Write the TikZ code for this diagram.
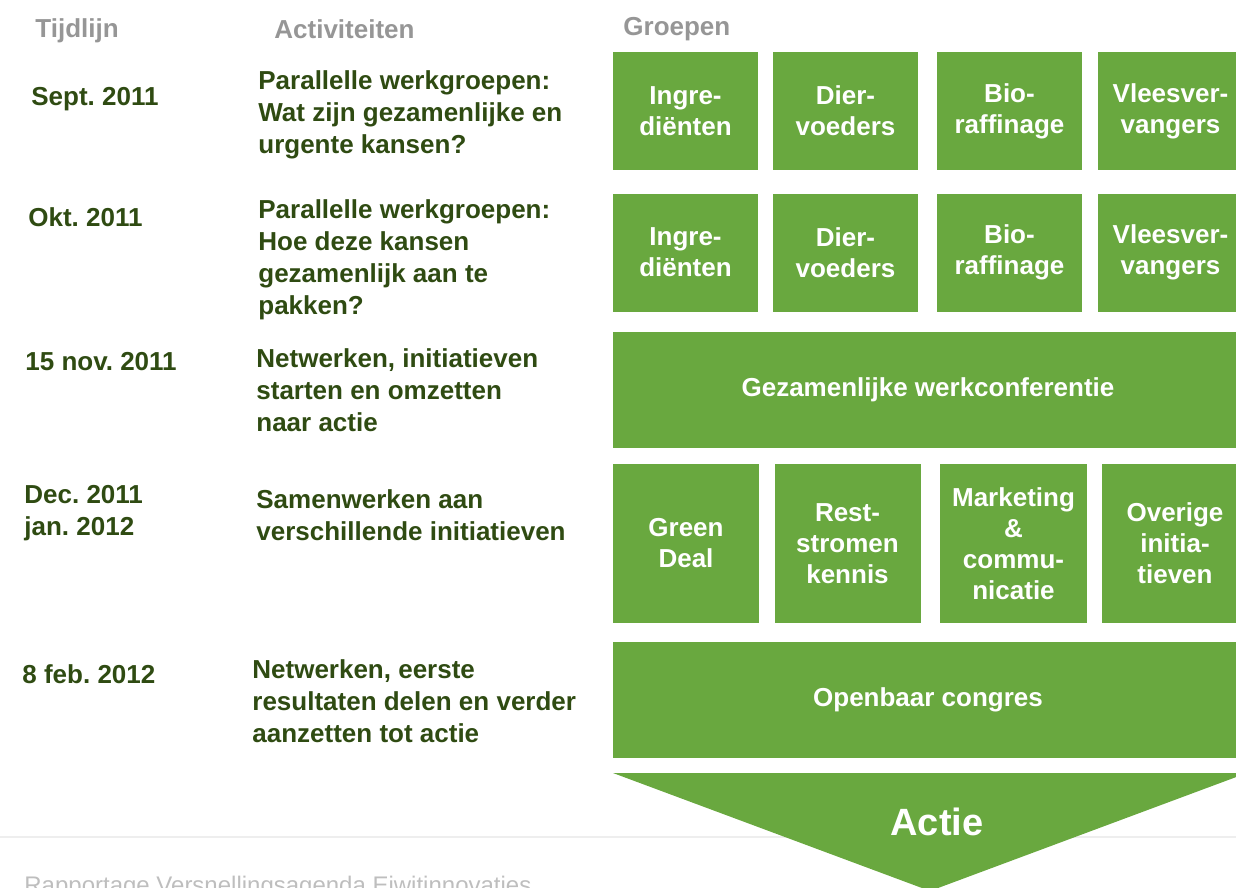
\documentclass[tikz,border=0pt]{standalone}
\usepackage{fontspec}
\setmainfont{Liberation Sans}
\frenchspacing
\definecolor{groen}{HTML}{69A83F}
\definecolor{donkergroen}{HTML}{2F4B12}
\definecolor{kopgrijs}{HTML}{969696}
\definecolor{voetgrijs}{HTML}{BEBEBE}
\definecolor{lijngrijs}{HTML}{EEEEEE}
\begin{document}
\begin{tikzpicture}[x=0.5pt,y=-0.5pt,
    kop/.style={anchor=west,inner sep=0,text=kopgrijs,font=\fontsize{13}{16}\selectfont\bfseries},
    tekst/.style={anchor=west,inner sep=0,align=left,text=donkergroen,font=\fontsize{13}{16}\selectfont\bfseries},
    groep/.style={fill=groen,text=white,align=center,inner sep=0,minimum width=72.5pt,minimum height=59pt,font=\fontsize{13}{15.5}\selectfont\bfseries},
    balk/.style={groep,minimum width=315pt,minimum height=58pt}]
    \clip (0,0) rectangle (1236,888);
    % koppen
    \node[kop] (tijdlijn) at (35,31) {Tijdlijn};
    \node[kop] (activiteiten) at (274,29) {Activiteiten};
    \node[kop] (groepen) at (623,29) {Groepen};
    % tijdlijn
    \node[tekst] (sept) at (31,99) {Sept. 2011};
    \node[tekst] (okt) at (28,217) {Okt. 2011};
    \node[tekst] (nov) at (25,362) {15 nov. 2011};
    \node[tekst] (dec) at (24,513) {Dec. 2011\\jan. 2012};
    \node[tekst] (feb) at (22,674) {8 feb. 2012};
    % activiteiten
    \node[tekst] (actsept) at (258,115) {Parallelle werkgroepen:\\Wat zijn gezamenlijke en\\urgente kansen?};
    \node[tekst] (actokt) at (258,260) {Parallelle werkgroepen:\\Hoe deze kansen\\gezamenlijk aan te\\pakken?};
    \node[tekst] (actnov) at (256,390) {Netwerken, initiatieven\\starten en omzetten\\naar actie};
    \node[tekst] (actdec) at (256,515) {Samenwerken aan\\verschillende initiatieven};
    \node[tekst] (actfeb) at (252,701) {Netwerken, eerste\\resultaten delen en verder\\aanzetten tot actie};
    % groepen
    \node[groep] (ingA) at (685.5,111) {Ingre-\\diënten};
    \node[groep] (dierA) at (845.5,111) {Dier-\\voeders};
    \node[groep] (bioA) at (1009.5,111) {Bio-\\raffinage};
    \node[groep] (vleesA) at (1170.5,111) {Vleesver-\\vangers};
    \node[groep] (ingB) at (685.5,252.5) {Ingre-\\diënten};
    \node[groep] (dierB) at (845.5,252.5) {Dier-\\voeders};
    \node[groep] (bioB) at (1009.5,252.5) {Bio-\\raffinage};
    \node[groep] (vleesB) at (1170.5,252.5) {Vleesver-\\vangers};
    \node[balk] (conferentie) at (928,390) {Gezamenlijke werkconferentie};
    \node[groep,minimum width=73pt,minimum height=79.5pt] (green) at (686,543.5) {Green\\Deal};
    \node[groep,minimum width=73pt,minimum height=79.5pt] (rest) at (847.5,543.5) {Rest-\\stromen\\kennis};
    \node[groep,minimum width=73.5pt,minimum height=79.5pt] (marketing) at (1013.5,543.5) {Marketing\\\&\\commu-\\nicatie};
    \node[groep,minimum width=73pt,minimum height=79.5pt] (overig) at (1175,543.5) {Overige\\initia-\\tieven};
    \node[balk] (congres) at (928,700) {Openbaar congres};
    % actie
    \draw[lijngrijs,line width=1pt] (0,837) -- (1236,837);
    \fill[groen] (613,773) -- (1247,773) -- (930,891) -- cycle;
    \node[text=white,font=\fontsize{19}{22}\selectfont\bfseries] (actie) at (937,822) {Actie};
    \node[anchor=base west,inner sep=0,text=voetgrijs,font=\fontsize{12}{14}\selectfont] (voet) at (24,893) {Rapportage Versnellingsagenda Eiwitinnovaties};
\end{tikzpicture}
\end{document}
